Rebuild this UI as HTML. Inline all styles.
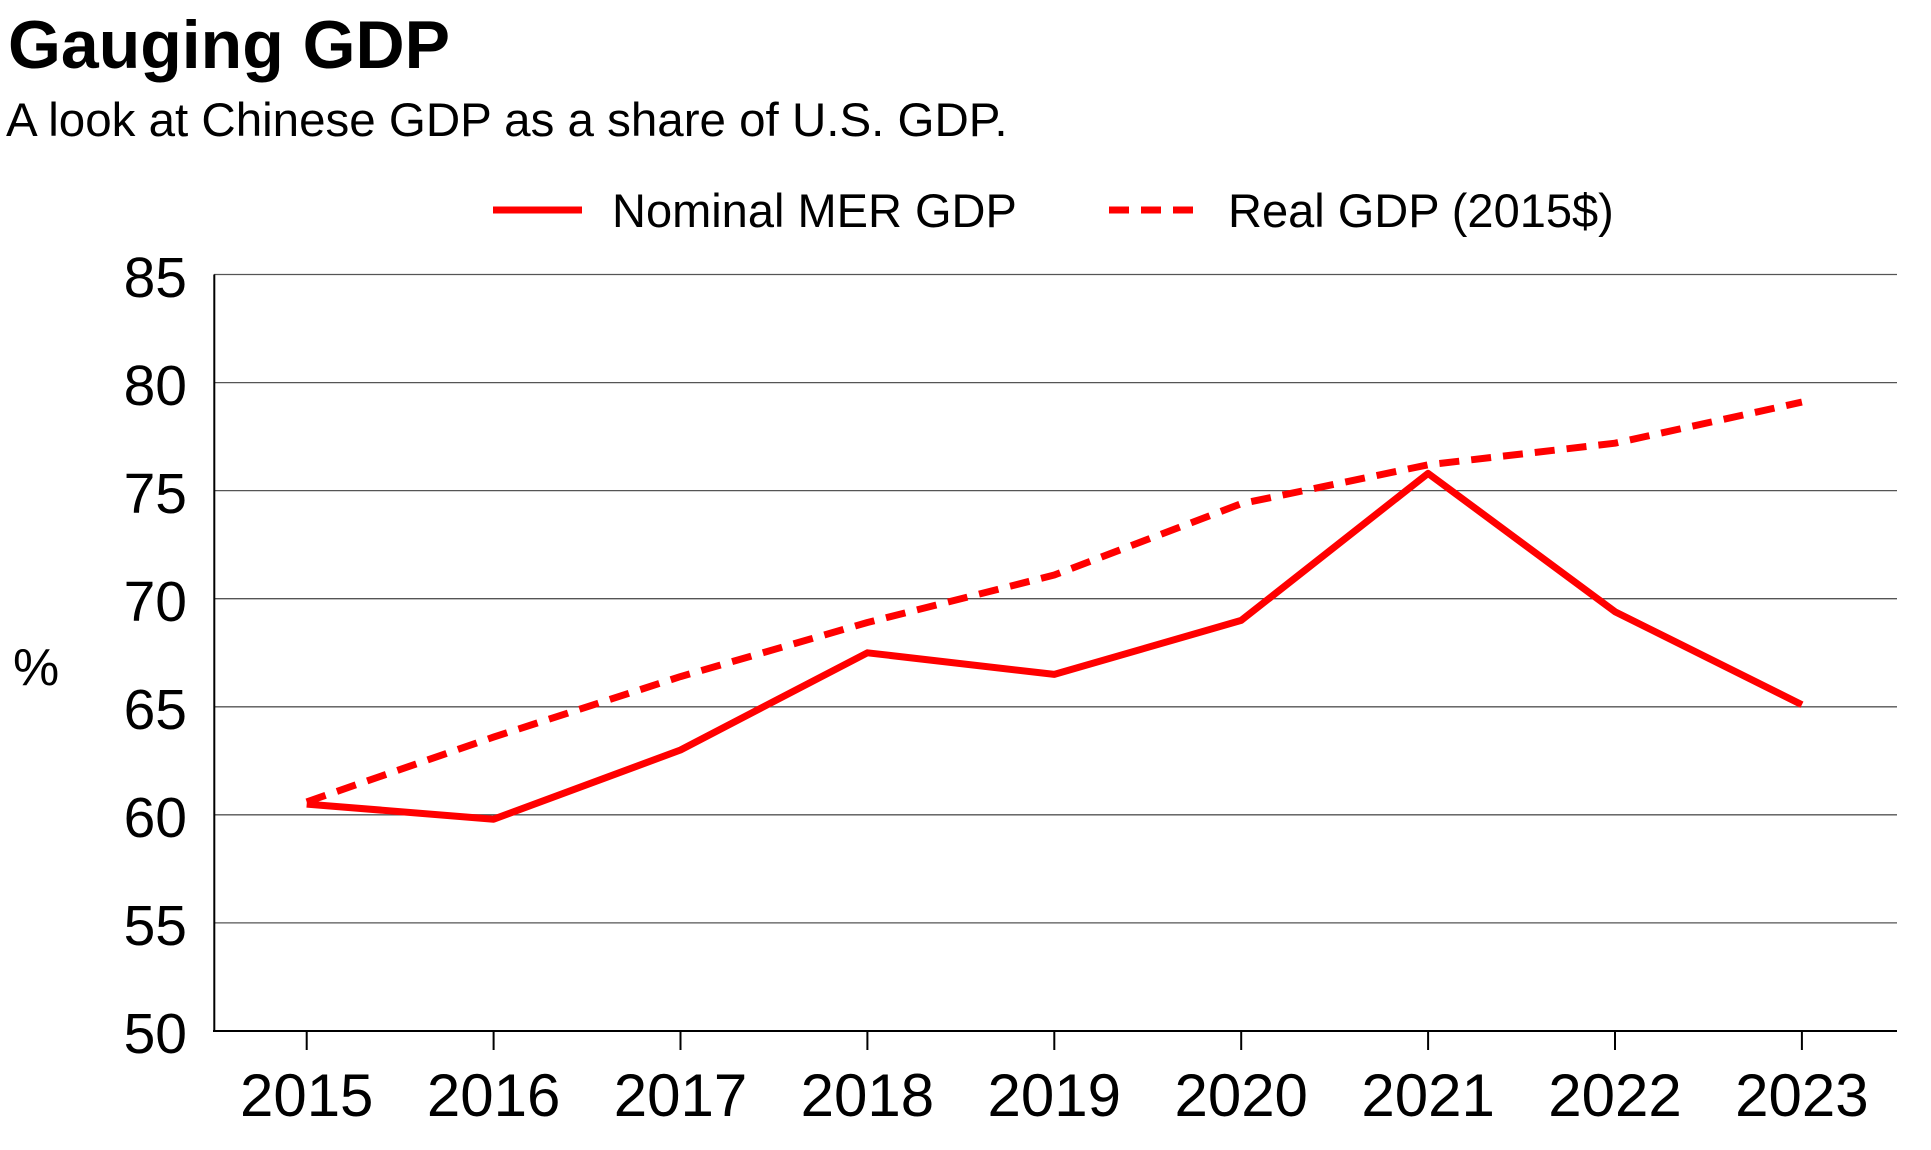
<!DOCTYPE html>
<html><head><meta charset="utf-8"><style>
html,body{margin:0;padding:0;background:#fff;}
svg{display:block;font-family:"Liberation Sans",sans-serif;}
</style></head><body>
<svg width="1931" height="1150" viewBox="0 0 1931 1150" xmlns="http://www.w3.org/2000/svg">
<text x="8" y="68" font-size="68" font-weight="bold" fill="#000">Gauging GDP</text>
<text x="6" y="136" font-size="47.5" fill="#000">A look at Chinese GDP as a share of U.S. GDP.</text>
<line x1="493" y1="210" x2="582" y2="210" stroke="#f00" stroke-width="7"/>
<text x="612" y="227" font-size="47" fill="#000">Nominal MER GDP</text>
<line x1="1109" y1="210" x2="1200" y2="210" stroke="#f00" stroke-width="7" stroke-dasharray="20,12"/>
<text x="1228" y="227" font-size="47" fill="#000">Real GDP (2015$)</text>
<g stroke="#555" stroke-width="1.3">
<line x1="214" y1="274.5" x2="1897" y2="274.5"/>
<line x1="214" y1="382.6" x2="1897" y2="382.6"/>
<line x1="214" y1="490.6" x2="1897" y2="490.6"/>
<line x1="214" y1="598.7" x2="1897" y2="598.7"/>
<line x1="214" y1="706.8" x2="1897" y2="706.8"/>
<line x1="214" y1="814.8" x2="1897" y2="814.8"/>
<line x1="214" y1="922.9" x2="1897" y2="922.9"/>
</g>
<line x1="214.3" y1="274.5" x2="214.3" y2="1032" stroke="#000" stroke-width="2"/>
<line x1="213" y1="1031" x2="1897" y2="1031" stroke="#000" stroke-width="2"/>
<g stroke="#000" stroke-width="2">
<line x1="306.7" y1="1031" x2="306.7" y2="1050"/><line x1="493.6" y1="1031" x2="493.6" y2="1050"/><line x1="680.5" y1="1031" x2="680.5" y2="1050"/><line x1="867.4" y1="1031" x2="867.4" y2="1050"/><line x1="1054.3" y1="1031" x2="1054.3" y2="1050"/><line x1="1241.2" y1="1031" x2="1241.2" y2="1050"/><line x1="1428.1" y1="1031" x2="1428.1" y2="1050"/><line x1="1615" y1="1031" x2="1615" y2="1050"/><line x1="1801.9" y1="1031" x2="1801.9" y2="1050"/>
</g>
<g font-size="57" fill="#000" text-anchor="end">
<text x="187" y="297">85</text><text x="187" y="405">80</text><text x="187" y="513">75</text><text x="187" y="621">70</text><text x="187" y="729">65</text><text x="187" y="837">60</text><text x="187" y="945">55</text><text x="187" y="1053">50</text>
</g>
<text x="13" y="685" font-size="52" fill="#000">%</text>
<g font-size="60" fill="#000" text-anchor="middle">
<text x="306.7" y="1116">2015</text><text x="493.6" y="1116">2016</text><text x="680.5" y="1116">2017</text><text x="867.4" y="1116">2018</text><text x="1054.3" y="1116">2019</text><text x="1241.2" y="1116">2020</text><text x="1428.1" y="1116">2021</text><text x="1615" y="1116">2022</text><text x="1801.9" y="1116">2023</text>
</g>
<polyline fill="none" stroke="#f00" stroke-width="7" stroke-linejoin="round" points="306.7,804.1 493.6,819.2 680.5,750 867.4,652.8 1054.3,674.4 1241.2,620.4 1428.1,473.4 1615,611.7 1801.9,704.7"/>
<polyline fill="none" stroke="#f00" stroke-width="7" stroke-dasharray="20,12" stroke-linejoin="round" points="306.7,801.9 493.6,737.1 680.5,676.6 867.4,622.5 1054.3,575 1241.2,503.7 1428.1,464.8 1615,443.2 1801.9,402.1"/>
</svg>
</body></html>
